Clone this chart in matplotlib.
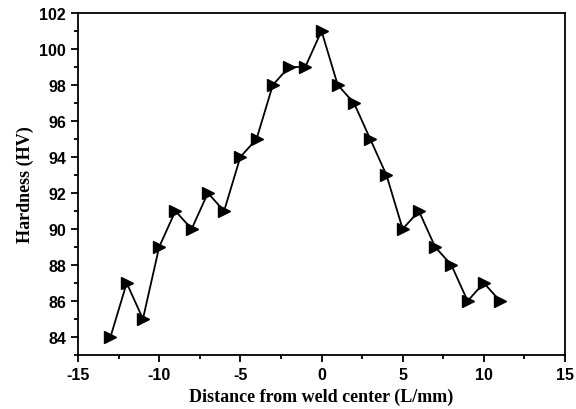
import matplotlib
matplotlib.use("Agg")
import matplotlib.pyplot as plt
from matplotlib.ticker import MultipleLocator

distance = [-13, -12, -11, -10, -9, -8, -7, -6, -5, -4, -3, -2, -1,
            0, 1, 2, 3, 4, 5, 6, 7, 8, 9, 10, 11]
hardness = [84, 87, 85, 89, 91, 90, 92, 91, 94, 95, 98, 99, 99,
            101, 98, 97, 95, 93, 90, 91, 89, 88, 86, 87, 86]

plt.rcParams['axes.unicode_minus'] = False
plt.rcParams['font.family'] = 'Liberation Sans'
plt.rcParams['font.weight'] = 'bold'

fig = plt.figure(figsize=(5.76, 4.10), dpi=100)
ax = fig.add_axes([78/576, 1 - 356/410, (565-78)/576, (356-14)/410])

ax.plot(distance, hardness, color='black', lw=1.3, marker='>',
        markersize=8, markerfacecolor='black', markeredgecolor='black')

ax.set_xlim(-15, 15)
ax.set_ylim(83, 102)
ax.xaxis.set_major_locator(MultipleLocator(5))
ax.xaxis.set_minor_locator(MultipleLocator(2.5))
ax.yaxis.set_major_locator(MultipleLocator(2))
ax.yaxis.set_minor_locator(MultipleLocator(1))
ax.tick_params(which='both', direction='out', width=1.3, labelsize=11.5)
ax.tick_params(which='major', length=5)
ax.tick_params(which='minor', length=3)
for s in ax.spines.values():
    s.set_linewidth(1.3)

ax.set_xlabel('Distance from weld center (L/mm)', fontfamily='Liberation Serif',
              fontweight='bold', fontsize=13)
ax.set_ylabel('Hardness (HV)', fontfamily='Liberation Serif',
              fontweight='bold', fontsize=13)

fig.savefig('out.png', dpi=100)
